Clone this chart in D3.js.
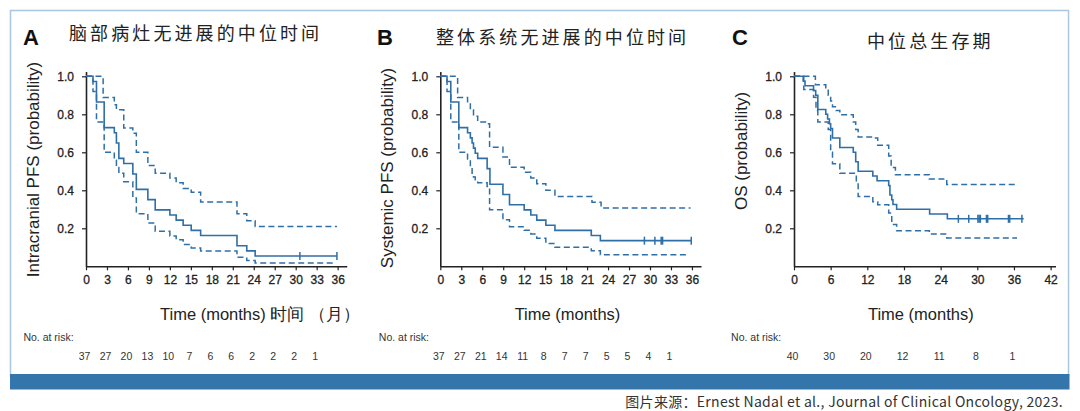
<!DOCTYPE html>
<html><head><meta charset="utf-8">
<script src="https://cdn.jsdelivr.net/npm/d3@7"></script>
<style>
html,body{margin:0;padding:0;background:#fff;}
svg{display:block;}
text{font-family:"Liberation Sans",Arial,sans-serif;}
.cjk{font-family:"Noto Sans CJK SC","Noto Sans",sans-serif;}
</style></head>
<body>
<svg id="chart" width="1080" height="411"></svg>
<script>
// ---------- data ----------
const panelLetters = ["A","B","C"];
const panelTitles = ["脑部病灶无进展的中位时间","整体系统无进展的中位时间","中位总生存期"];
const yTitles = ["Intracranial PFS (probability)","Systemic PFS (probability)","OS (probability)"];
const xTitles = ["Time (months) 时间 （月）","Time (months)","Time (months)"];
const yTickValues = [0.2,0.4,0.6,0.8,1.0];
const xTicksAB = [0,3,6,9,12,15,18,21,24,27,30,33,36];
const xTicksC = [0,6,12,18,24,30,36,42];

// Panel A: intracranial PFS
const timesA = [0,1.0,1.5,2.6,4.05,4.35,4.7,5.4,6.7,7.2,8.85,9.9,12.0,12.9,13.9,15.05,16.4,21.6,23.0,24.2,35.9];
const survA  = [1.0,0.973,0.865,0.730,0.703,0.649,0.568,0.541,0.486,0.405,0.351,0.297,0.270,0.243,0.216,0.189,0.162,0.108,0.081,0.054,0.054];
const upTimesA = [0,2.45,4.05,4.35,5.4,6.7,7.2,8.85,9.9,12.0,12.9,13.9,15.05,16.4,21.6,23.0,24.2,35.9];
const upperA   = [1.0,0.889,0.85,0.824,0.728,0.70,0.60,0.53,0.49,0.465,0.44,0.41,0.39,0.338,0.277,0.24,0.21,0.21];
const loTimesA = [0,1.0,1.5,2.6,4.05,4.35,4.7,5.4,6.7,7.2,8.85,9.9,12.0,12.9,13.9,15.05,16.4,21.6,23.0,24.2,35.8];
const lowerA   = [1.0,0.92,0.76,0.60,0.56,0.52,0.49,0.445,0.36,0.277,0.228,0.184,0.16,0.14,0.115,0.096,0.08,0.047,0.03,0.017,0.017];
const censorA  = [30.6,35.9];
const riskA    = [37,27,20,13,10,7,6,6,2,2,2,1];

// Panel B: systemic PFS
const timesB = [0,0.96,1.5,2.65,3.9,4.3,4.55,4.75,5.0,5.35,6.7,7.1,8.96,9.9,12.0,12.95,13.8,15.1,16.4,21.6,22.9,35.9];
const survB  = [1.0,0.973,0.865,0.730,0.703,0.676,0.649,0.622,0.595,0.568,0.514,0.432,0.378,0.324,0.297,0.270,0.243,0.216,0.189,0.162,0.135,0.135];
const upTimesB = [0,2.48,3.9,4.3,4.75,5.35,6.7,7.05,8.96,9.9,12.0,12.95,13.8,15.1,16.4,21.7,23.0,35.8];
const upperB   = [1.0,0.889,0.86,0.824,0.79,0.76,0.75,0.626,0.575,0.521,0.495,0.465,0.435,0.40,0.368,0.337,0.307,0.307];
const loTimesB = [0,0.96,1.5,2.65,3.9,4.3,4.55,4.75,5.0,5.35,6.7,7.05,8.96,9.9,12.0,12.95,13.8,15.1,16.4,21.6,22.9,35.6];
const lowerB   = [1.0,0.92,0.76,0.60,0.565,0.52,0.49,0.47,0.455,0.44,0.42,0.298,0.245,0.208,0.19,0.17,0.147,0.12,0.10,0.082,0.061,0.061];
const censorB  = [29.2,30.7,31.6,31.8,35.9];
const riskB    = [37,27,21,14,11,8,7,7,5,5,4,1];

// Panel C: overall survival
const timesC = [0,1.5,1.8,3.2,3.55,3.9,5.2,5.5,5.8,6.0,6.3,7.5,9.7,10.1,10.5,12.9,13.6,15.5,15.7,16.0,16.2,16.8,22.2,25.1,37.6];
const survC  = [1.0,0.975,0.95,0.925,0.90,0.825,0.80,0.775,0.75,0.725,0.675,0.625,0.60,0.55,0.50,0.475,0.45,0.425,0.375,0.35,0.325,0.30,0.275,0.25,0.25];
const upTimesC = [0,3.5,5.2,5.6,6.0,6.3,6.9,7.5,9.7,10.1,10.5,12.9,13.7,15.5,15.9,16.6,22.15,25.0,36.7];
const upperC   = [1.0,0.955,0.935,0.90,0.87,0.84,0.82,0.798,0.76,0.72,0.68,0.675,0.637,0.58,0.52,0.482,0.46,0.43,0.43];
const loTimesC = [0,1.6,3.2,3.6,3.9,5.6,6.0,6.3,7.5,10.2,10.5,12.9,13.7,15.5,16.0,16.8,22.15,25.0,36.5];
const lowerC   = [1.0,0.93,0.89,0.82,0.76,0.72,0.60,0.54,0.49,0.45,0.368,0.34,0.324,0.28,0.22,0.187,0.17,0.149,0.149];
const censorC  = [26.9,28.6,30.1,30.3,30.5,31.5,31.7,35.1,35.3,37.3];
const riskC    = [40,30,20,12,11,8,1];

const riskTimesAB = [0,3,6,9,12,15,18,21,24,27,30,33];
const riskTimesC  = [0,6,12,18,24,30,36];
const riskLabel = "No. at risk:";
const caption = "图片来源：Ernest Nadal et al., Journal of Clinical Oncology, 2023.";

// ---------- layout ----------
const BLUE = "#2f6fa7";
const svg = d3.select("#chart");

// frame and bottom bar
svg.append("rect").attr("x",10.5).attr("y",10.5).attr("width",1058).attr("height",366)
  .attr("fill","none").attr("stroke","#a9c7e3").attr("stroke-width",1.5);
svg.append("rect").attr("x",10).attr("y",374).attr("width",1059.5).attr("height",15.5)
  .attr("fill","#3476ac");

svg.append("text").attr("class","cjk").attr("x",1063).attr("y",407)
  .attr("text-anchor","end").attr("font-size",14).attr("letter-spacing",0.3)
  .attr("fill","#333").text(caption);

const panels = [
  {letter:panelLetters[0], title:panelTitles[0], ytitle:yTitles[0], xtitle:xTitles[0],
   x0:86, xMax:37.3, pxPerMonth:6.99, ticks:xTicksAB,
   times:timesA, surv:survA, upT:upTimesA, up:upperA, loT:loTimesA, lo:lowerA, censor:censorA,
   risk:riskA, riskT:riskTimesAB, riskLabelX:23.4,
   letterX:23, titleX:69, titleY:40, ytitleX:39.3, ytitleY:169.5, xtitleX:160, xtitleAnchor:"start"},
  {letter:panelLetters[1], title:panelTitles[1], ytitle:yTitles[1], xtitle:xTitles[1],
   x0:440.3, xMax:37.3, pxPerMonth:6.99, ticks:xTicksAB,
   times:timesB, surv:survB, upT:upTimesB, up:upperB, loT:loTimesB, lo:lowerB, censor:censorB,
   risk:riskB, riskT:riskTimesAB, riskLabelX:378.8,
   letterX:377, titleX:436, titleY:43.5, ytitleX:392.7, ytitleY:168, xtitleX:567.5, xtitleAnchor:"middle"},
  {letter:panelLetters[2], title:panelTitles[2], ytitle:yTitles[2], xtitle:xTitles[2],
   x0:794, xMax:42.8, pxPerMonth:6.11, ticks:xTicksC,
   times:timesC, surv:survC, upT:upTimesC, up:upperC, loT:loTimesC, lo:lowerC, censor:censorC,
   risk:riskC, riskT:riskTimesC, riskLabelX:731.1,
   letterX:732, titleX:867, titleY:48, ytitleX:746.7, ytitleY:151, xtitleX:920.8, xtitleAnchor:"middle"}
];

const y = d3.scaleLinear().domain([0,1.025]).range([266.3,71.55]);

panels.forEach(p => {
  const g = svg.append("g");
  const x = d3.scaleLinear().domain([0,p.xMax]).range([p.x0, p.x0 + p.xMax*p.pxPerMonth]);

  // letter
  g.append("text").attr("x",p.letterX).attr("y",45).attr("font-size",22)
    .attr("font-weight","bold").attr("fill","#111").text(p.letter);
  // Chinese title
  g.append("text").attr("class","cjk").attr("x",p.titleX).attr("y",p.titleY)
    .attr("font-size",18).attr("letter-spacing",3.1).attr("fill","#222").text(p.title);

  // axes
  const xAxis = d3.axisBottom(x).tickValues(p.ticks).tickSize(4).tickSizeOuter(0).tickPadding(5)
    .tickFormat(d3.format("d"));
  const gx = g.append("g").attr("transform",`translate(0,${y(0)})`).call(xAxis);
  gx.select(".domain").attr("stroke","#222").attr("stroke-width",1.6);
  gx.selectAll(".tick line").attr("stroke","#222").attr("stroke-width",1.2);
  gx.selectAll(".tick text").attr("font-size",12).attr("fill","#222")
    .attr("stroke","#222").attr("stroke-width",0.3)
    .attr("font-family","'Liberation Sans',Arial,sans-serif");

  const yAxis = d3.axisLeft(y).tickValues(yTickValues).tickSize(4).tickSizeOuter(0).tickPadding(8)
    .tickFormat(d3.format(".1f"));
  const gy = g.append("g").attr("transform",`translate(${p.x0},0)`).call(yAxis);
  gy.select(".domain").attr("stroke","#222").attr("stroke-width",1.6);
  gy.selectAll(".tick line").attr("stroke","#222").attr("stroke-width",1.2);
  gy.selectAll(".tick text").attr("font-size",12).attr("fill","#222")
    .attr("stroke","#222").attr("stroke-width",0.3)
    .attr("font-family","'Liberation Sans',Arial,sans-serif");

  // axis titles
  g.append("text").attr("transform",`translate(${p.ytitleX},${p.ytitleY}) rotate(-90)`)
    .attr("text-anchor","middle").attr("font-size",17).attr("fill","#222").text(p.ytitle);
  g.append("text").attr("x",p.xtitleX).attr("y",320).attr("text-anchor",p.xtitleAnchor)
    .attr("font-size",16.5).attr("fill","#222").text(p.xtitle);

  // curves
  const line = d3.line().x(d => x(d[0])).y(d => y(d[1])).curve(d3.curveStepAfter);
  const mk = (ts, vs) => ts.map((t,i) => [t, vs[i]]);
  g.append("path").attr("d", line(mk(p.upT,p.up))).attr("fill","none")
    .attr("stroke",BLUE).attr("stroke-width",1.5).attr("stroke-dasharray","6,3.5");
  g.append("path").attr("d", line(mk(p.loT,p.lo))).attr("fill","none")
    .attr("stroke",BLUE).attr("stroke-width",1.5).attr("stroke-dasharray","6,3.5");
  g.append("path").attr("d", line(mk(p.times,p.surv))).attr("fill","none")
    .attr("stroke",BLUE).attr("stroke-width",1.6);

  // censor marks
  const survAt = t => { let v = p.surv[0]; p.times.forEach((tt,i)=>{ if (tt<=t) v = p.surv[i]; }); return v; };
  g.selectAll(".cens").data(p.censor).enter().append("line")
    .attr("x1",d=>x(d)).attr("x2",d=>x(d))
    .attr("y1",d=>y(survAt(d))-4).attr("y2",d=>y(survAt(d))+4)
    .attr("stroke",BLUE).attr("stroke-width",1.5);

  // risk table
  g.append("text").attr("x",p.riskLabelX).attr("y",341).attr("font-size",10.5)
    .attr("fill","#333").text(riskLabel);
  g.selectAll(".risk").data(p.risk).enter().append("text")
    .attr("x",(d,i)=>x(p.riskT[i]) - 1.5).attr("y",360).attr("text-anchor","middle")
    .attr("font-size",10.5).attr("fill","#333").text(d=>d);
});
</script>
</body></html>
